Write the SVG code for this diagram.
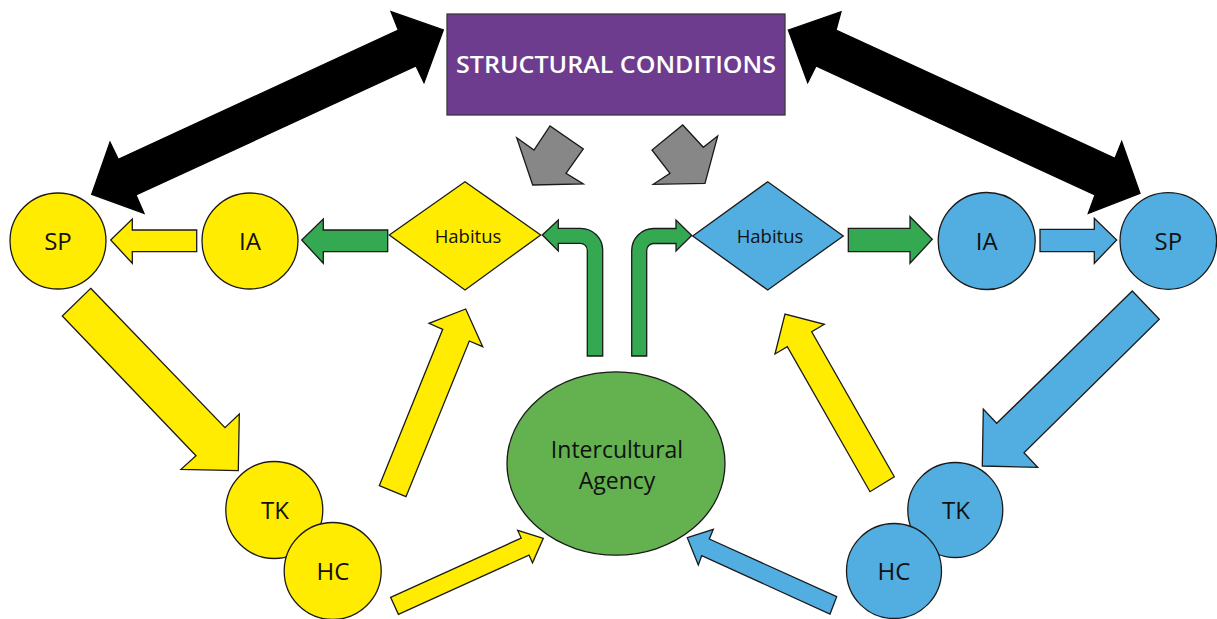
<svg xmlns="http://www.w3.org/2000/svg" width="1217" height="619" viewBox="0 0 1217 619">
<style>
.o{stroke:#1a1a1a;stroke-width:1.3;stroke-linejoin:miter}
.y{fill:#ffec00}
.b{fill:#52ade0}
.g{fill:#35a852}
.k{fill:#000000;stroke:#000}
.gr{fill:#878787}
.t{font-family:"Open Sans","Liberation Sans",sans-serif;fill:#111;text-anchor:middle}
.c{font-size:24px}
</style>
<rect width="1217" height="619" fill="#ffffff"/>
<g id="connectors">
<polygon class="o k" points="443.3,30 424,82.7 416,66 136,195 144,213.3 91.7,194.3 110,142.3 118.3,159.3 398.3,30 391,11.7"/>
<polygon class="o k" points="788.3,30 841,11.7 836,30 1115,158.3 1121.7,141.7 1140,193.3 1088.3,213.3 1095,195 816,66 807.7,82.7"/>
<polygon class="o gr" points="516.7,137.7 534,150 550,126 583.3,149 566,173.3 583.3,184 532.7,185"/>
<polygon class="o gr" points="717.7,136 703.3,147.3 682.7,125 652,150 670,173.3 653.3,184.3 705,183.3"/>
<polygon class="o y" points="110.7,240 132.3,219 132.3,230 196.7,230 196.7,251.7 132.3,251.7 132.3,263.3"/>
<polygon class="o g" points="301.7,240 323.3,219 323.3,230 387.7,230 387.7,251.7 323.3,251.7 323.3,263.3"/>
<path class="o g" d="M542.3,235 L558.3,220 L558.3,228.3 L580.7,228.3 A22 22 0 0 1 602.7,250.3 L602.7,356 L587.3,356 L587.3,250.3 A7 7 0 0 0 580.3,243.3 L558.3,243.3 L558.3,251 Z"/>
<path class="o g" d="M691.7,235.5 L676,220 L676,228.5 L653.7,228.5 A22 22 0 0 0 631.7,250.5 L631.7,356 L646.7,356 L646.7,250.5 A7 7 0 0 1 653.7,243.5 L676,243.5 L676,251 Z"/>
<polygon class="o g" points="848.3,228.3 910,228.3 910,216.7 932.3,239.3 910,263.3 910,251.7 848.3,251.7"/>
<polygon class="o b" points="1040,229.3 1094.3,229.3 1094.3,218.3 1116.7,240 1094.3,263.3 1094.3,251.7 1040,251.7"/>
<polygon class="o y" points="90.7,288.3 225,427.7 239.3,414 238.3,470.7 181,469.3 196,455.7 62.3,316"/>
<polygon class="o y" points="379.3,485.7 442.7,329.3 429,323.3 465.7,309 482.7,346.7 469.3,341 406,496.7"/>
<polygon class="o y" points="390.6,597.3 521.2,538.1 517.7,530.4 543.3,538.3 532.5,562.8 529,555.1 398.4,614.3"/>
<polygon class="o b" points="836.7,596.7 709.3,539 713.3,529.3 687.3,537.7 698.3,565 701.7,555.7 830,614"/>
<polygon class="o y" points="894.3,476.7 811.7,331.7 824.3,324.3 785,314 775,354 787.3,346.7 870,491.7"/>
<polygon class="o b" points="1132.3,291 1159.3,319.3 1024,452.7 1037.7,467.3 982.3,466 983.3,409 996.7,423.3"/>
</g>
<g id="structural">
<rect x="447" y="14" width="338" height="101" fill="#6d3c8f" stroke="#3a3a3a" stroke-width="1.3"/>
<text x="616" y="73" class="t" style="fill:#fff;font-weight:600" font-size="24" textLength="320" lengthAdjust="spacingAndGlyphs">STRUCTURAL CONDITIONS</text>
</g>
<g id="sp-left"><circle class="o y" cx="58" cy="241" r="48"/><text class="t c" x="58" y="249.5">SP</text></g>
<g id="ia-left"><circle class="o y" cx="250" cy="241" r="48"/><text class="t c" x="250" y="249.5">IA</text></g>
<g id="habitus-left"><polygon class="o y" points="389.3,235 465,181.7 540.7,235 465,290"/><text class="t" x="468" y="243" font-size="18.5">Habitus</text></g>
<g id="habitus-right"><polygon class="o b" points="692.7,236 767.7,181.7 843.3,236 767.7,290"/><text class="t" x="770" y="243" font-size="18.5">Habitus</text></g>
<g id="ia-right"><circle class="o b" cx="986.7" cy="241" r="48.5"/><text class="t c" x="986.7" y="249.5">IA</text></g>
<g id="sp-right"><circle class="o b" cx="1168.3" cy="241" r="48.3"/><text class="t c" x="1168.3" y="249.5">SP</text></g>
<g id="tk-left"><circle class="o y" cx="274.3" cy="510" r="48.5"/><text class="t c" x="275" y="518.5">TK</text></g>
<g id="hc-left"><circle class="o y" cx="332.7" cy="571" r="48.5"/><text class="t c" x="333" y="579.5">HC</text></g>
<g id="tk-right"><circle class="o b" cx="955.3" cy="510" r="47.5"/><text class="t c" x="956" y="518.5">TK</text></g>
<g id="hc-right"><circle class="o b" cx="894" cy="571" r="47.5"/><text class="t c" x="894" y="579.5">HC</text></g>
<g id="agency"><ellipse class="o" cx="616" cy="463.5" rx="109" ry="91.7" fill="#63b14f"/><text class="t" x="617" y="457.5" font-size="23">Intercultural</text><text class="t" x="617" y="488.5" font-size="23">Agency</text></g>
</svg>
